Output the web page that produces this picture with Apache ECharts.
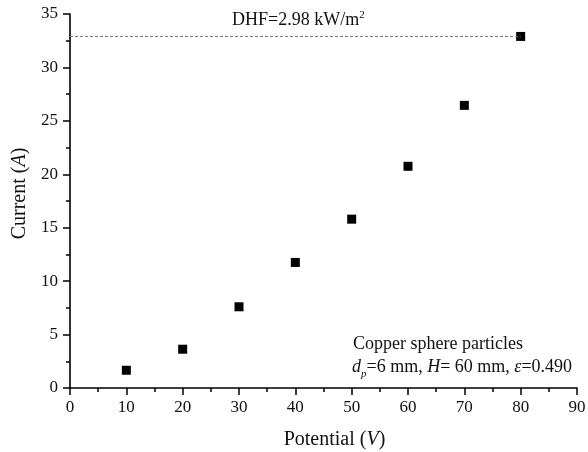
<!DOCTYPE html>
<html><head><meta charset="utf-8">
<script src="https://cdn.jsdelivr.net/npm/echarts@6/dist/echarts.min.js"></script>
<style>html,body{margin:0;padding:0;background:#fff}#c{width:588px;height:452px}</style>
</head><body><div id="c"></div>
<script>
const potential = [10, 20, 30, 40, 50, 60, 70, 80];
const current = [1.66, 3.63, 7.6, 11.75, 15.8, 20.75, 26.45, 32.9];
const dhfValue = 32.9;
const dhfLabel = 'DHF=2.98 kW/m';
const xTicks = [0, 90, 10];
const yTicks = [0, 35, 5];

const F = '"Liberation Serif", "Times New Roman", serif';
const chart = echarts.init(document.getElementById('c'), null, {renderer: 'canvas'});
chart.setOption({
  animation: false,
  backgroundColor: '#fff',
  grid: {left: 70, top: 14, right: 11, bottom: 64, containLabel: false, outerBoundsMode: 'none'},
  xAxis: {
    type: 'value', min: xTicks[0], max: xTicks[1], interval: xTicks[2],
    name: '{n|Potential (}{i|V}{n|)}', nameLocation: 'middle', nameGap: 42,
    nameTextStyle: {padding: [0, 0, 0, 22],
      rich: {n: {fontFamily: F, fontSize: 20, color: '#111'}, i: {fontFamily: F, fontSize: 20, fontStyle: 'italic', color: '#111'}}},
    axisLine: {show: true, onZero: false, lineStyle: {color: '#000', width: 1.6}},
    axisTick: {show: true, inside: false, length: 7, lineStyle: {color: '#000', width: 1.5}},
    minorTick: {show: true, splitNumber: 2, length: 4, lineStyle: {color: '#000', width: 1.5}},
    axisLabel: {fontFamily: F, fontSize: 17, color: '#111', margin: 11},
    splitLine: {show: false}
  },
  yAxis: {
    type: 'value', min: yTicks[0], max: yTicks[1], interval: yTicks[2],
    name: '{n|Current (}{i|A}{n|)}', nameLocation: 'middle', nameGap: 40, nameRotate: 90,
    nameTextStyle: {padding: [0, 0, 0, 15],
      rich: {n: {fontFamily: F, fontSize: 20, color: '#111'}, i: {fontFamily: F, fontSize: 20, fontStyle: 'italic', color: '#111'}}},
    axisLine: {show: true, onZero: false, lineStyle: {color: '#000', width: 1.6}},
    axisTick: {show: true, inside: false, length: 7, lineStyle: {color: '#000', width: 1.5}},
    minorTick: {show: true, splitNumber: 2, length: 4, lineStyle: {color: '#000', width: 1.5}},
    axisLabel: {fontFamily: F, fontSize: 17, color: '#111', margin: 12},
    splitLine: {show: false}
  },
  series: [{
    type: 'scatter',
    symbol: 'rect', symbolSize: 9,
    itemStyle: {color: '#000', opacity: 1},
    data: potential.map((x, i) => [x, current[i]]),
    markLine: {
      silent: true, symbol: 'none',
      lineStyle: {color: '#777', type: [3, 2], width: 1, opacity: 1},
      label: {show: false},
      data: [[{coord: [0, dhfValue]}, {coord: [potential[potential.length - 1], dhfValue]}]]
    }
  }],
  graphic: [
    {type: 'text', left: 232, top: 10, style: {
      text: '{n|' + dhfLabel + '}{s|2}',
      rich: {n: {fontFamily: F, fontSize: 18, fill: '#111'}, s: {fontFamily: F, fontSize: 11, fill: '#111', verticalAlign: 'top', padding: [0, 0, 9, 0]}}
    }},
    {type: 'text', left: 353, top: 335, style: {
      text: 'Copper sphere particles', fontFamily: F, fontSize: 18, fill: '#111'
    }},
    {type: 'text', left: 352, top: 358, style: {
      text: '{i|d}{s|p}{n|=6 mm, }{i|H}{n|= 60 mm, }{i|ε}{n|=0.490}',
      rich: {
        n: {fontFamily: F, fontSize: 18, fill: '#111'},
        i: {fontFamily: F, fontSize: 18, fontStyle: 'italic', fill: '#111'},
        s: {fontFamily: F, fontSize: 11, fontStyle: 'italic', fill: '#111', padding: [14, 0, 0, 0]}
      }
    }}
  ]
});
</script></body></html>
